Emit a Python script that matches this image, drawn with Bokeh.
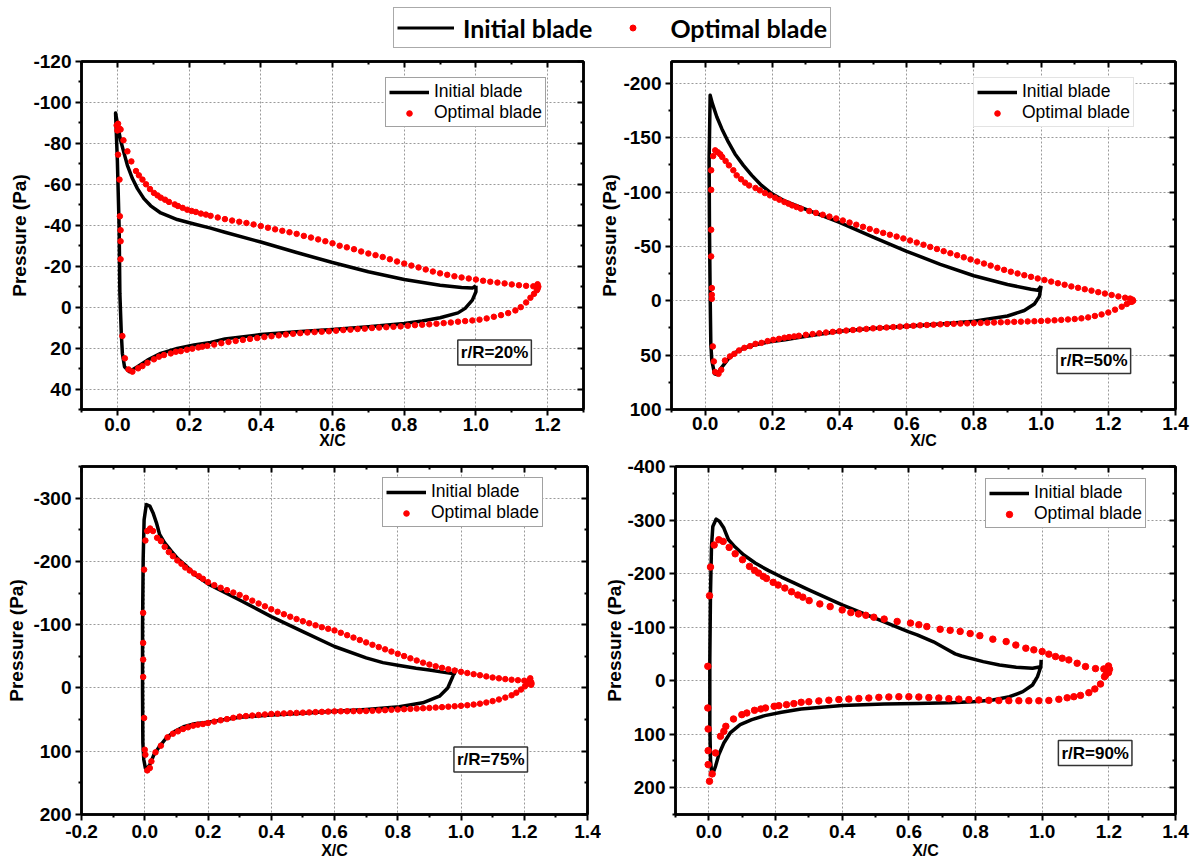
from bokeh.plotting import figure
from bokeh.models import (Range1d, FixedTicker, LinearAxis, NumeralTickFormatter,
                          CustomJSTickFormatter, Legend, LegendItem, Label)
from bokeh.layouts import column, row
from bokeh.embed import file_html
from bokeh.resources import INLINE

SERIES = ["Initial blade", "Optimal blade"]
PANEL_NAMES = ["r/R=20%", "r/R=50%", "r/R=75%", "r/R=90%"]

# ---------------- r/R = 20% ----------------
INIT_20 = [(1.000,-10.5),(0.990,-9.3),(0.960,-9.6),(0.900,-10.7),(0.800,-13.5),(0.700,-17.3),(0.600,-21.8),
           (0.500,-26.7),(0.400,-31.8),(0.300,-36.6),(0.260,-38.6),(0.214,-40.6),(0.167,-42.8),(0.121,-46.0),
           (0.093,-49.5),(0.074,-53.0),(0.056,-57.9),(0.042,-62.8),(0.028,-69.3),(0.019,-75.0),(0.009,-81.5),
           (0.002,-88.0),(-0.005,-94.8),(0.000,-71.7),(0.005,-39.0),(0.007,-6.7),(0.011,12.8),(0.014,22.6),
           (0.020,29.1),(0.033,31.5),(0.056,29.1),(0.084,25.9),(0.121,22.6),(0.167,20.2),(0.214,18.5),
           (0.260,17.2),(0.300,15.5),(0.400,13.4),(0.500,12.0),(0.600,10.9),(0.700,9.6),(0.800,8.0),
           (0.850,6.8),(0.900,5.2),(0.950,2.8),(0.970,0.6),(0.990,-3.4),(1.000,-7.5),(1.000,-10.5)]
OPT_20_UPPER = [(-0.002,-88.8),(0.002,-89.6),(0.006,-87.2),(0.000,-86.3),(0.009,-86.8),(0.017,-81.5),(0.028,-76.1),
                (0.039,-71.2),(0.052,-66.5),(0.060,-64.4),(0.070,-62.3),(0.080,-60.0),(0.091,-57.7),(0.102,-55.8),
                (0.112,-54.6),(0.121,-53.5),(0.133,-52.5),(0.144,-51.4),(0.160,-50.2),(0.169,-49.4),(0.182,-48.5),
                (0.195,-47.6),(0.207,-47.0),(0.219,-46.5),(0.233,-45.7),(0.247,-45.2),(0.260,-44.6),(0.280,-43.8),
                (0.300,-43.0),(0.320,-42.3),(0.340,-41.7),(0.360,-41.1),(0.380,-40.4),(0.400,-39.6),(0.420,-38.8),
                (0.440,-38.0),(0.460,-37.3),(0.480,-36.6),(0.500,-35.8),(0.520,-34.8),(0.540,-34.0),(0.560,-33.1),
                (0.580,-32.2),(0.600,-31.2),(0.620,-30.0),(0.640,-29.2),(0.660,-28.3),(0.680,-27.2),(0.700,-26.2),
                (0.720,-25.4),(0.740,-24.5),(0.760,-23.4),(0.780,-22.3),(0.800,-21.3),(0.820,-20.3),(0.840,-19.4),
                (0.860,-18.4),(0.880,-17.4),(0.900,-16.5),(0.920,-15.8),(0.940,-15.1),(0.960,-14.5),(0.980,-14.0),
                (1.000,-13.5),(1.020,-12.9),(1.040,-12.4),(1.060,-12.0),(1.080,-11.6),(1.100,-11.1),(1.120,-10.7),
                (1.140,-10.4),(1.160,-10.2),(1.172,-11.2),(1.174,-10.0),(1.172,-9.0),(1.170,-8.3)]
OPT_20_LOWER = [(0.002,-74.5),(0.006,-62.3),(0.007,-44.4),(0.009,-37.6),(0.009,-32.2),(0.009,-23.4),(0.014,14.1),
                (0.021,25.0),(0.031,30.4),(0.042,31.5),(0.058,29.9),(0.070,28.8),(0.084,27.2),(0.102,25.5),
                (0.116,24.2),(0.130,23.4),(0.149,22.6),(0.163,21.8),(0.177,21.5),(0.194,20.8),(0.209,20.3),
                (0.226,19.7),(0.237,19.3),(0.251,18.9),(0.270,18.3),(0.290,17.6),(0.310,17.0),(0.330,16.5),
                (0.350,16.0),(0.370,15.5),(0.390,15.1),(0.410,14.6),(0.430,14.2),(0.450,13.8),(0.470,13.4),
                (0.490,13.0),(0.510,12.7),(0.530,12.4),(0.550,12.2),(0.570,12.0),(0.590,11.8),(0.610,11.5),
                (0.630,11.2),(0.650,11.0),(0.670,10.7),(0.690,10.5),(0.710,10.2),(0.730,10.0),(0.750,9.8),
                (0.770,9.6),(0.790,9.4),(0.810,9.1),(0.830,8.8),(0.850,8.6),(0.870,8.4),(0.890,8.1),(0.910,7.8),
                (0.930,7.5),(0.950,7.1),(0.970,6.8),(0.990,6.5),(1.010,6.1),(1.030,5.5),(1.050,4.7),(1.070,3.9),
                (1.090,2.9),(1.110,1.6),(1.125,0.0),(1.140,-2.3),(1.152,-4.6),(1.162,-6.5)]

# ---------------- r/R = 50% ----------------
INIT_50 = [(1.000,-13.5),(0.990,-9.6),(0.970,-10.5),(0.900,-15.0),(0.800,-23.0),(0.700,-33.5),(0.600,-45.5),
           (0.500,-58.5),(0.400,-72.0),(0.300,-84.0),(0.238,-91.5),(0.198,-98.5),(0.168,-106.0),(0.139,-115.3),
           (0.114,-124.5),(0.089,-135.0),(0.069,-146.0),(0.050,-158.0),(0.035,-169.0),(0.022,-181.0),(0.015,-189.0),
           (0.012,-129.0),(0.013,-67.8),(0.015,-6.4),(0.017,39.6),(0.020,54.9),(0.028,67.2),(0.035,67.8),
           (0.050,61.0),(0.069,53.4),(0.099,45.7),(0.139,41.1),(0.188,38.0),(0.238,35.9),(0.287,33.4),
           (0.400,28.0),(0.500,25.4),(0.600,23.4),(0.700,21.3),(0.800,18.8),(0.900,14.0),(0.950,9.0),
           (0.980,3.0),(0.995,-4.0),(1.000,-13.5)]
OPT_50_UPPER = [(0.018,-120.0),(0.018,-102.0),(0.018,-65.3),(0.018,-40.8),(0.020,-11.7),(0.020,-5.5),(0.020,-1.8),
                (0.024,-133.0),(0.030,-138.3),(0.038,-136.5),(0.045,-134.7),(0.051,-132.2),(0.061,-128.5),
                (0.071,-124.5),(0.084,-120.0),(0.094,-115.3),(0.107,-111.7),(0.119,-108.6),(0.131,-106.0),
                (0.150,-103.7),(0.163,-101.5),(0.178,-99.0),(0.193,-96.9),(0.208,-94.8),(0.221,-92.9),(0.236,-90.8),
                (0.248,-89.3),(0.259,-87.7),(0.272,-86.2),(0.285,-84.7),(0.310,-82.5),(0.330,-80.8),(0.350,-79.1),
                (0.370,-77.4),(0.390,-75.7),(0.410,-73.8),(0.430,-71.9),(0.450,-69.9),(0.470,-68.0),(0.490,-66.0),
                (0.510,-64.1),(0.530,-62.4),(0.550,-60.7),(0.570,-59.0),(0.590,-57.3),(0.610,-55.4),(0.630,-53.5),
                (0.650,-51.5),(0.670,-49.5),(0.690,-47.6),(0.710,-45.6),(0.730,-43.7),(0.750,-41.8),(0.770,-39.9),
                (0.790,-38.0),(0.810,-36.1),(0.830,-34.2),(0.850,-32.3),(0.870,-30.3),(0.890,-28.4),(0.910,-26.7),
                (0.930,-25.1),(0.950,-23.5),(0.970,-22.0),(0.990,-20.5),(1.010,-19.1),(1.030,-17.6),(1.050,-16.1),
                (1.070,-14.7),(1.090,-13.2),(1.110,-11.9),(1.130,-10.6),(1.150,-9.3),(1.170,-7.9),(1.190,-6.6),
                (1.210,-5.3),(1.230,-4.0),(1.250,-2.8),(1.265,-2.0),(1.272,-1.0),(1.274,0.0),(1.270,1.0)]
OPT_50_LOWER = [(0.023,42.0),(0.026,55.8),(0.030,65.6),(0.040,67.2),(0.048,63.5),(0.059,54.9),(0.074,51.2),
                (0.087,48.8),(0.101,45.7),(0.117,43.3),(0.134,41.7),(0.150,39.6),(0.168,38.7),(0.186,37.1),
                (0.203,35.9),(0.220,35.0),(0.236,34.0),(0.250,33.4),(0.265,32.8),(0.279,32.2),(0.300,31.3),
                (0.320,30.6),(0.340,29.9),(0.360,29.2),(0.380,28.6),(0.400,28.0),(0.420,27.4),(0.440,26.9),
                (0.460,26.4),(0.480,25.9),(0.500,25.4),(0.520,25.0),(0.540,24.6),(0.560,24.2),(0.580,23.8),
                (0.600,23.4),(0.620,23.0),(0.640,22.6),(0.660,22.3),(0.680,22.0),(0.700,21.7),(0.720,21.4),
                (0.740,21.2),(0.760,21.0),(0.780,20.8),(0.800,20.6),(0.820,20.4),(0.840,20.2),(0.860,20.0),
                (0.880,19.8),(0.900,19.6),(0.920,19.4),(0.940,19.2),(0.960,19.0),(0.980,18.8),(1.000,18.6),
                (1.020,18.3),(1.040,18.0),(1.060,17.6),(1.080,17.2),(1.100,16.8),(1.120,16.2),(1.140,15.3),
                (1.160,14.0),(1.180,12.6),(1.200,10.8),(1.220,8.2),(1.240,5.5),(1.255,3.0),(1.265,1.0)]

# ---------------- r/R = 75% ----------------
INIT_75 = [(0.984,-31.3),(0.979,-22.4),(0.942,-25.0),(0.900,-28.5),(0.858,-31.3),(0.800,-36.0),(0.753,-40.0),
           (0.700,-47.5),(0.600,-65.5),(0.500,-89.0),
           (0.400,-112.8),(0.300,-139.0),(0.200,-164.5),(0.158,-179.3),(0.132,-192.5),(0.105,-204.1),
           (0.084,-216.2),(0.063,-229.4),(0.047,-242.6),(0.037,-261.0),(0.026,-277.0),(0.016,-287.4),
           (0.005,-290.0),(-0.002,-266.0),(-0.005,-203.0),(-0.007,-97.6),(-0.007,7.9),(-0.006,87.0),
           (-0.003,113.4),(0.002,126.6),(0.006,128.2),(0.016,121.3),(0.029,105.5),(0.047,92.3),(0.068,79.1),
           (0.095,68.6),(0.126,60.7),(0.158,56.4),(0.200,54.0),(0.300,46.4),(0.400,42.7),(0.500,40.0),
           (0.600,37.0),(0.700,34.0),(0.805,29.7),(0.879,23.4),(0.932,13.0),(0.958,0.0),(0.974,-18.2),
           (0.984,-31.3)]
OPT_75_UPPER = [(-0.002,-187.0),(-0.005,-118.7),(-0.005,-71.2),(-0.005,-44.8),(-0.005,-17.4),
                (0.002,-233.0),(0.008,-248.0),(0.017,-252.0),(0.026,-248.0),(0.039,-237.3),(0.051,-232.0),
                (0.063,-223.0),(0.076,-214.7),(0.089,-208.3),(0.103,-201.5),(0.116,-196.2),(0.128,-190.4),
                (0.142,-185.7),(0.156,-180.9),(0.171,-176.7),(0.184,-172.5),(0.200,-167.2),(0.220,-162.5),
                (0.240,-158.3),(0.260,-154.6),(0.280,-150.8),(0.300,-147.0),(0.320,-142.5),(0.340,-138.0),
                (0.360,-133.5),(0.380,-129.0),(0.400,-124.4),(0.420,-120.4),(0.440,-116.5),(0.460,-112.6),
                (0.480,-108.9),(0.500,-105.5),(0.520,-102.2),(0.540,-99.0),(0.560,-96.0),(0.580,-93.5),
                (0.600,-91.0),(0.620,-87.2),(0.640,-83.4),(0.660,-79.6),(0.680,-75.8),(0.700,-72.0),(0.720,-68.2),
                (0.740,-64.6),(0.760,-61.0),(0.780,-57.5),(0.800,-54.0),(0.820,-50.4),(0.840,-46.8),(0.860,-43.4),
                (0.880,-40.0),(0.900,-37.0),(0.920,-34.3),(0.940,-31.8),(0.960,-29.5),(0.980,-27.5),(1.000,-25.5),
                (1.020,-23.6),(1.040,-21.8),(1.060,-20.1),(1.080,-18.3),(1.100,-16.5),(1.120,-15.2),(1.140,-14.0),
                (1.160,-13.0),(1.180,-12.2),(1.200,-11.5),(1.215,-11.5),(1.219,-15.3),(1.221,-10.0),(1.223,-7.4),
                (1.222,-5.0)]
OPT_75_LOWER = [(-0.002,47.5),(0.000,97.6),(0.002,105.5),(0.008,130.3),(0.016,126.6),(0.021,116.0),(0.034,101.8),
                (0.051,91.2),(0.072,78.1),(0.089,72.3),(0.105,68.6),(0.121,64.9),(0.137,62.2),(0.153,59.6),
                (0.168,58.0),(0.184,57.0),(0.200,55.4),(0.220,53.2),(0.240,51.1),(0.260,49.2),(0.280,47.2),
                (0.300,45.3),(0.320,44.4),(0.340,43.6),(0.360,42.7),(0.380,41.9),(0.400,41.1),(0.420,40.7),
                (0.440,40.3),(0.460,39.8),(0.480,39.4),(0.500,39.0),(0.520,38.6),(0.540,38.2),(0.560,37.8),
                (0.580,37.4),(0.600,37.0),(0.620,36.9),(0.640,36.8),(0.660,36.7),(0.680,36.6),(0.700,36.5),
                (0.720,36.1),(0.740,35.6),(0.760,35.1),(0.780,34.6),(0.800,34.1),(0.820,33.6),(0.840,33.1),
                (0.860,32.6),(0.880,32.1),(0.900,31.6),(0.920,31.0),(0.940,30.3),(0.960,29.6),(0.980,28.9),
                (1.000,28.2),(1.020,27.3),(1.040,26.2),(1.060,24.8),(1.080,23.0),(1.100,20.8),(1.120,18.2),
                (1.140,15.2),(1.160,11.6),(1.175,7.5),(1.190,2.5),(1.202,-2.5),(1.210,-6.5)]

# ---------------- r/R = 90% ----------------
INIT_90 = [(0.997,-38.7),(0.996,-26.0),(0.971,-23.0),(0.922,-25.0),(0.872,-29.4),(0.823,-35.6),(0.758,-46.0),
           (0.739,-50.0),(0.706,-61.5),(0.674,-72.5),(0.625,-85.6),(0.600,-91.0),
           (0.500,-116.5),(0.400,-141.4),(0.300,-169.5),(0.257,-182.3),(0.218,-193.5),(0.178,-206.0),
           (0.139,-219.7),(0.104,-235.2),(0.079,-249.5),(0.059,-263.2),(0.045,-285.0),(0.032,-297.4),
           (0.022,-301.8),(0.012,-288.0),(0.008,-250.8),(0.005,-163.7),(0.003,-39.2),(0.003,85.3),
           (0.005,147.5),(0.008,169.3),(0.012,173.6),(0.020,160.0),(0.030,138.0),(0.045,116.4),(0.064,97.7),
           (0.094,82.1),(0.129,72.8),(0.168,65.3),(0.218,59.1),(0.277,52.9),(0.400,46.5),(0.526,43.8),
           (0.625,42.5),(0.724,41.3),(0.793,39.4),(0.852,36.3),(0.902,30.0),(0.942,20.6),(0.971,8.1),
           (0.986,-7.5),(0.996,-26.0),(0.997,-38.7)]
OPT_90_UPPER = [(0.016,-253.3),(0.005,-212.2),(0.002,-158.7),(-0.003,-26.8),(0.030,-263.2),(0.043,-260.1),
                (0.061,-248.9),(0.079,-237.0),(0.101,-225.9),(0.122,-213.4),(0.137,-206.0),(0.149,-201.0),
                (0.163,-194.8),(0.173,-191.0),(0.193,-183.6),(0.208,-178.6),(0.228,-173.0),(0.248,-166.1),
                (0.267,-160.0),(0.282,-156.0),(0.301,-149.5),(0.333,-143.3),(0.364,-138.3),(0.400,-132.1),
                (0.426,-127.1),(0.449,-124.6),(0.471,-122.1),(0.495,-118.5),(0.526,-115.0),(0.565,-110.6),
                (0.605,-107.5),(0.630,-104.5),(0.654,-101.0),(0.694,-96.0),(0.724,-94.0),(0.754,-92.0),
                (0.784,-88.0),(0.813,-84.0),(0.852,-77.5),(0.892,-73.0),(0.921,-66.5),(0.951,-60.6),(0.975,-57.5),
                (1.000,-54.4),(1.020,-49.5),(1.040,-45.0),(1.060,-41.9),(1.080,-38.8),(1.105,-32.5),(1.130,-26.3),
                (1.160,-22.5),(1.185,-22.0),(1.199,-27.4),(1.202,-21.2),(1.199,-15.0),(1.191,-10.6)]
OPT_90_LOWER = [(-0.003,51.0),(-0.002,90.2),(-0.002,130.7),(-0.002,156.8),(0.002,187.9),(0.010,174.2),
                (0.020,135.0),(0.035,103.9),(0.045,94.6),(0.051,85.3),(0.074,71.6),(0.099,63.5),(0.114,60.4),
                (0.137,55.4),(0.156,52.9),(0.170,51.0),(0.196,47.9),(0.210,46.7),(0.233,44.8),(0.255,42.9),
                (0.277,40.4),(0.300,39.3),(0.330,37.8),(0.360,36.5),(0.390,35.3),(0.420,34.3),(0.450,33.3),
                (0.480,32.4),(0.510,31.2),(0.540,30.5),(0.570,30.0),(0.600,30.0),(0.630,30.5),(0.660,31.6),
                (0.690,32.4),(0.720,33.6),(0.750,34.5),(0.780,35.4),(0.810,36.0),(0.840,36.8),(0.870,37.2),
                (0.900,37.4),(0.930,37.5),(0.960,37.5),(0.990,37.5),(1.020,37.0),(1.050,34.8),(1.075,32.0),
                (1.095,30.0),(1.115,27.5),(1.140,22.5),(1.158,15.5),(1.175,6.3),(1.187,-7.5)]

# ---------------- ticks ----------------
XTICKS_A = [0.0, 0.2, 0.4, 0.6, 0.8, 1.0, 1.2]
XTICKS_B = [0.0, 0.2, 0.4, 0.6, 0.8, 1.0, 1.2, 1.4]
XTICKS_C = [-0.2, 0.0, 0.2, 0.4, 0.6, 0.8, 1.0, 1.2, 1.4]
XMINOR = [-0.1, 0.1, 0.3, 0.5, 0.7, 0.9, 1.1, 1.3]
YTICKS_20 = [-120, -100, -80, -60, -40, -20, 0, 20, 40]
YMINOR_20 = [-110, -90, -70, -50, -30, -10, 10, 30, 50]
YTICKS_50 = [-200, -150, -100, -50, 0, 50, 100]
YMINOR_50 = [-175, -125, -75, -25, 25, 75]
YTICKS_75 = [-300, -200, -100, 0, 100, 200]
YMINOR_75 = [-350, -250, -150, -50, 50, 150]
YTICKS_90 = [-400, -300, -200, -100, 0, 100, 200]
YMINOR_90 = [-350, -250, -150, -50, 50, 150, 250]

FONT = "Liberation Sans"


def split(pts):
    return [p[0] for p in pts], [p[1] for p in pts]


def make_panel(name, init, opt, xr, yr, xt, yt, ym, dims, borders, leg_loc, leg_border,
               rr_xy, dot, xstand, xlab_stand, ylab_stand):
    w, h = dims
    bl, br, bt, bb = borders
    p = figure(width=w, height=h, output_backend="svg", toolbar_location=None,
               x_range=Range1d(xr[0], xr[1]), y_range=Range1d(yr[1], yr[0]),
               min_border_left=bl, min_border_right=br, min_border_top=bt, min_border_bottom=bb,
               background_fill_color="white", border_fill_color="white")
    p.outline_line_color = "black"
    p.outline_line_width = 2.5

    xa = p.below[0]
    ya = p.left[0]
    xa.ticker = FixedTicker(ticks=xt, minor_ticks=XMINOR)
    ya.ticker = FixedTicker(ticks=yt, minor_ticks=ym)
    xa.formatter = NumeralTickFormatter(format="0.0")
    ya.formatter = NumeralTickFormatter(format="0")
    xa.axis_label = "X/C"
    ya.axis_label = "Pressure (Pa)"
    for ax in (xa, ya):
        ax.axis_line_width = 2.5
        ax.axis_line_color = "black"
        ax.major_tick_out = 6
        ax.major_tick_in = 0
        ax.minor_tick_out = 3
        ax.minor_tick_in = 0
        ax.major_tick_line_width = 2
        ax.minor_tick_line_width = 2
        ax.major_tick_line_color = "black"
        ax.minor_tick_line_color = "black"
        ax.major_label_text_font = FONT
        ax.major_label_text_font_style = "bold"
        ax.major_label_text_font_size = "19px"
        ax.major_label_text_color = "black"
        ax.axis_label_text_font = FONT
        ax.axis_label_text_font_style = "bold"
        ax.axis_label_text_color = "black"
    xa.major_label_standoff = xstand
    ya.major_label_standoff = 4
    xa.axis_label_text_font_size = "16px"
    ya.axis_label_text_font_size = "19px"
    xa.axis_label_standoff = xlab_stand
    ya.axis_label_standoff = ylab_stand

    blank = CustomJSTickFormatter(code="return '';")
    for loc, t, m in (("above", xt, XMINOR), ("right", yt, ym)):
        ax = LinearAxis(ticker=FixedTicker(ticks=t, minor_ticks=m), formatter=blank,
                        major_label_standoff=0,
                        major_tick_in=6, major_tick_out=0, minor_tick_in=3, minor_tick_out=0,
                        axis_line_width=2.5, axis_line_color="black",
                        major_tick_line_width=2, minor_tick_line_width=2)
        p.add_layout(ax, loc)

    for g in (p.xgrid[0], p.ygrid[0]):
        g.grid_line_color = "#9a9a9a"
        g.grid_line_dash = "2 2"
        g.grid_line_width = 1

    ix, iy = split(init)
    ox, oy = split(opt)
    r1 = p.line(ix, iy, line_color="black", line_width=3.5, line_join="round")
    r2 = p.scatter(ox, oy, marker="circle", size=dot, fill_color="#ff0000", line_color="#ff0000")

    leg = Legend(items=[LegendItem(label=SERIES[0], renderers=[r1]),
                        LegendItem(label=SERIES[1], renderers=[r2])],
                 location=leg_loc, orientation="vertical", padding=3, spacing=0, margin=0,
                 glyph_width=40, glyph_height=round(dot * 2.5), label_height=20, label_standoff=5,
                 label_text_font=FONT, label_text_font_size="17.5px", label_text_color="black",
                 border_line_color=leg_border, border_line_width=1.5,
                 background_fill_color="white", background_fill_alpha=1.0)
    p.add_layout(leg, "center")

    lab = Label(x=rr_xy[0], y=rr_xy[1], text=name, text_align="center", text_baseline="middle",
                text_font=FONT, text_font_style="bold", text_font_size="17px", text_color="black",
                border_line_color="#333333", border_line_width=1.5,
                background_fill_color="white", padding=3)
    p.add_layout(lab)
    return p


# page layout: header 0-50, row 1 50-455, row 2 455-867 (frames at y 61-409 and 466-814)
p1 = make_panel(PANEL_NAMES[0], INIT_20, OPT_20_UPPER + OPT_20_LOWER, (-0.1, 1.3), (-120, 50),
                XTICKS_A, YTICKS_20, YMINOR_20, (596, 405), (81, 13, 11, 46), (304, 282), "#444444",
                (1.052, 22.1), 5.5, 2, -2, 0)
p2 = make_panel(PANEL_NAMES[1], INIT_50, OPT_50_UPPER + OPT_50_LOWER, (-0.1, 1.4), (-220, 100),
                XTICKS_B, YTICKS_50, YMINOR_50, (596, 405), (74, 17, 11, 46), (302, 282), "#c8c8c8",
                (1.157, 55.4), 5.5, 1, -1, 0)
p3 = make_panel(PANEL_NAMES[2], INIT_75, OPT_75_UPPER + OPT_75_LOWER, (-0.2, 1.4), (-350, 200),
                XTICKS_C, YTICKS_75, YMINOR_75, (601, 412), (81, 14, 11, 53), (301, 287), "#444444",
                (1.094, 113.0), 5.5, 4, 1, 3)
p4 = make_panel(PANEL_NAMES[3], INIT_90, OPT_90_UPPER + OPT_90_LOWER, (-0.1, 1.4), (-400, 250),
                XTICKS_B, YTICKS_90, YMINOR_90, (591, 412), (69, 17, 11, 53), (310, 286), "#444444",
                (1.159, 135.2), 6.5, 4, 1, -1)

# ---------------- shared header legend ----------------
hdr = figure(width=1192, height=50, output_backend="svg", toolbar_location=None,
             x_range=Range1d(10, 11), y_range=Range1d(1000, 1001), x_axis_type=None, y_axis_type=None,
             min_border=0, min_border_left=0, min_border_right=0, min_border_top=0, min_border_bottom=0,
             background_fill_color="white", border_fill_color="white")
hdr.outline_line_color = None
hx, hy = split(INIT_20)
hox, hoy = split(OPT_20_UPPER)
h1 = hdr.line(hx, hy, line_color="black", line_width=3)
h2 = hdr.scatter(hox, hoy, marker="circle", size=6, fill_color="#ff0000", line_color="#ff0000")
hleg = Legend(items=[LegendItem(label=SERIES[0], renderers=[h1]),
                     LegendItem(label=SERIES[1], renderers=[h2])],
              location=(393, 2), orientation="horizontal", padding=3, spacing=12, margin=0,
              glyph_width=57, glyph_height=15, label_height=33, label_standoff=9,
              label_text_font="Lato", label_text_font_style="bold", label_text_font_size="25px",
              label_text_color="black", border_line_color="#555555", border_line_width=1.5,
              background_fill_color="white", background_fill_alpha=1.0)
hdr.add_layout(hleg, "center")

layout = column(hdr, row(p1, p2), row(p3, p4))
open("out.html", "w").write(file_html(layout, INLINE))
